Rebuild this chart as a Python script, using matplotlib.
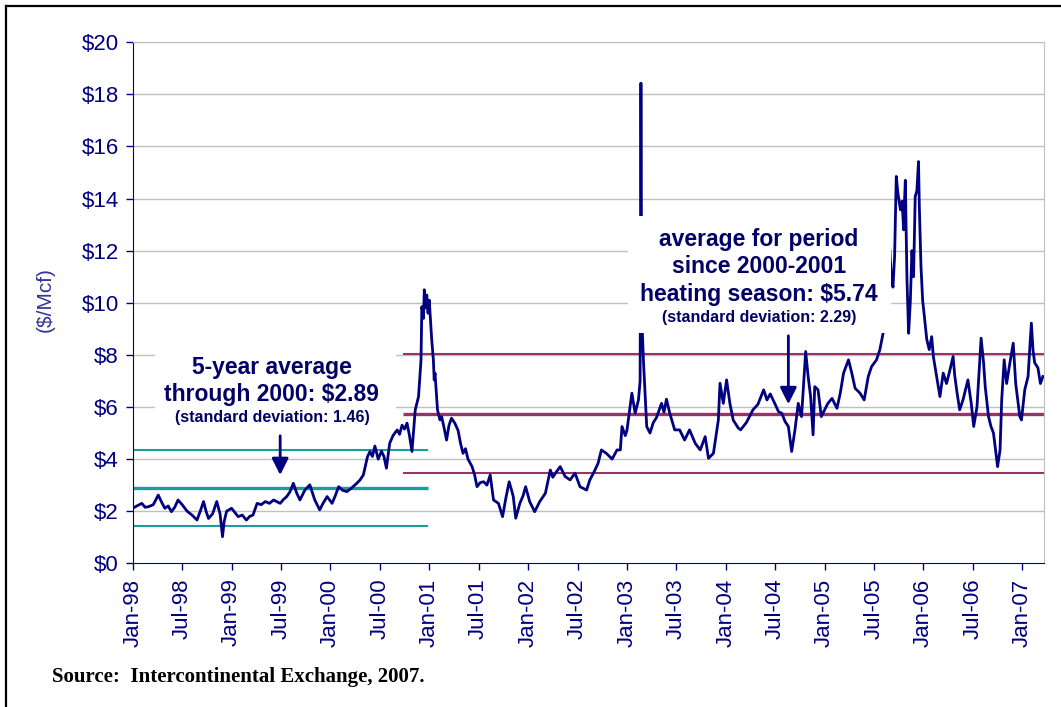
import matplotlib.pyplot as plt
from matplotlib.patches import Rectangle
from matplotlib.lines import Line2D

# Daily gas price, x = months since Jan-98
months = [0.0, 0.5, 1.1, 1.5, 1.9, 2.5, 3.1, 3.5, 3.9, 4.3, 4.7, 5.1, 5.5, 6.0, 6.6,
          7.2, 7.8, 8.2, 8.6, 8.9, 9.2, 9.7, 10.2, 10.6, 10.9, 11.1, 11.4, 12.0, 12.4,
          12.8, 13.3, 13.8, 14.2, 14.6, 15.1, 15.6, 16.1, 16.6, 17.1, 17.6, 17.9, 18.3,
          18.7, 19.1, 19.5, 19.9, 20.3, 20.9, 21.5, 22.1, 22.7, 23.1, 23.6, 24.2, 24.6,
          25.0, 25.5, 26.0, 26.6, 27.2, 27.6, 28.0, 28.5, 28.8, 29.1, 29.4, 29.8, 30.2,
          30.5, 30.8, 31.2, 31.6, 32.1, 32.4, 32.7, 33.0, 33.3, 33.6, 33.9, 34.3, 34.7,
          35.0, 35.1, 35.3, 35.4, 35.5, 35.7, 35.85, 36.0, 36.3, 36.5, 36.6, 36.7, 37.0,
          37.3, 37.5, 37.8, 38.1, 38.4, 38.7, 39.1, 39.5, 39.8, 40.1, 40.4, 40.7, 41.2,
          41.5, 41.8, 42.2, 42.6, 43.0, 43.4, 43.8, 44.4, 44.9, 45.3, 45.7, 46.0, 46.2,
          46.5, 47.0, 47.4, 47.7, 48.2, 48.8, 49.4, 50.1, 50.7, 51.0, 51.3, 51.9, 52.5,
          53.1, 53.7, 54.3, 55.1, 55.5, 56.0, 56.5, 56.9, 57.5, 58.2, 58.8, 59.2, 59.4,
          59.8, 60.0, 60.6, 61.0, 61.4, 61.6, 61.7, 61.8, 62.0, 62.4, 62.8, 63.2, 63.6,
          64.2, 64.5, 64.8, 65.2, 65.8, 66.4, 67.0, 67.6, 68.3, 68.9, 69.5, 69.9, 70.5,
          71.1, 71.3, 71.7, 72.1, 72.5, 72.9, 73.5, 73.8, 74.5, 75.3, 75.9, 76.6, 77.0,
          77.4, 78.0, 78.4, 78.8, 79.2, 79.6, 80.0, 80.4, 80.8, 81.2, 81.7, 82.0, 82.3,
          82.6, 82.8, 83.2, 83.6, 84.0, 84.4, 84.9, 85.5, 85.9, 86.3, 86.9, 87.3, 87.7,
          88.3, 88.8, 89.3, 89.7, 90.3, 90.7, 91.1, 91.4, 91.8, 92.1, 92.3, 92.5, 92.7,
          92.9, 93.2, 93.4, 93.6, 93.7, 93.8, 94.0, 94.2, 94.4, 94.6, 94.8, 95.0, 95.2,
          95.4, 95.5, 95.7, 95.9, 96.2, 96.4, 96.7, 97.0, 97.2, 97.6, 98.0, 98.4, 98.8,
          99.2, 99.6, 99.8, 100.1, 100.4, 100.8, 101.4, 101.8, 102.1, 102.5, 103.0,
          103.3, 103.5, 103.9, 104.2, 104.5, 104.7, 105.0, 105.3, 105.5, 105.8, 106.1,
          106.5, 106.9, 107.2, 107.7, 107.9, 108.3, 108.7, 109.1, 109.3, 109.5, 109.9,
          110.2, 110.5]
prices = [2.11, 2.20, 2.30, 2.15, 2.17, 2.25, 2.62, 2.35, 2.11, 2.20, 1.98, 2.15, 2.43, 2.25, 2.00,
          1.85, 1.66, 2.00, 2.37, 2.00, 1.72, 1.90, 2.37, 1.90, 1.02, 1.60, 2.00, 2.11, 1.95,
          1.79, 1.85, 1.66, 1.80, 1.85, 2.30, 2.25, 2.37, 2.30, 2.43, 2.35, 2.30, 2.45,
          2.56, 2.75, 3.07, 2.70, 2.43, 2.81, 3.01, 2.43, 2.05, 2.30, 2.56, 2.30, 2.60,
          2.94, 2.80, 2.75, 2.90, 3.07, 3.20, 3.39, 4.09, 4.29, 4.10, 4.50, 4.00, 4.30,
          4.10, 3.65, 4.61, 4.90, 5.12, 4.95, 5.30, 5.15, 5.38, 4.90, 4.29, 5.89, 6.40,
          7.81, 9.85, 9.40, 10.50, 9.80, 10.30, 9.60, 10.10, 8.58, 7.81, 7.04, 7.30, 5.89,
          5.50, 5.63, 5.20, 4.73, 5.30, 5.57, 5.38, 5.10, 4.60, 4.22, 4.40, 4.00, 3.71,
          3.40, 2.94, 3.10, 3.13, 3.00, 3.39, 2.43, 2.30, 1.79, 2.50, 3.13, 2.80, 2.56,
          1.73, 2.30, 2.60, 2.94, 2.36, 1.98, 2.36, 2.69, 3.58, 3.30, 3.45, 3.71, 3.33,
          3.20, 3.46, 2.94, 2.81, 3.20, 3.50, 3.84, 4.35, 4.22, 4.00, 4.35, 4.35, 5.25,
          4.90, 5.10, 6.53, 5.76, 6.27, 7.00, 18.43, 9.50, 7.81, 5.25, 5.00, 5.40, 5.60,
          6.14, 5.80, 6.30, 5.76, 5.12, 5.12, 4.73, 5.12, 4.60, 4.35, 4.86, 4.03, 4.22,
          5.50, 6.91, 6.14, 7.04, 6.14, 5.50, 5.20, 5.12, 5.40, 5.89, 6.10, 6.66, 6.27,
          6.50, 6.10, 5.82, 5.76, 5.44, 5.25, 4.29, 5.12, 6.14, 5.63, 8.13, 7.17, 6.40,
          4.93, 6.78, 6.66, 5.63, 5.89, 6.14, 6.33, 5.95, 6.53, 7.30, 7.81, 7.30, 6.72,
          6.53, 6.27, 7.17, 7.55, 7.81, 8.19, 8.83, 9.60, 12.70, 11.00, 10.60, 11.80, 14.85,
          14.20, 13.57, 13.90, 12.80, 13.90, 14.70, 10.88, 8.83, 10.00, 12.00, 11.00, 14.08, 14.30,
          15.42, 13.70, 11.40, 10.11, 9.22, 8.60, 8.20, 8.70, 7.94, 7.17, 6.40, 7.30, 6.90,
          7.40, 7.94, 7.20, 6.50, 5.89, 6.27, 7.04, 6.14, 5.25, 6.00, 8.64,
          7.70, 6.78, 5.63, 5.25, 5.00, 4.48, 3.71, 4.35, 6.27, 7.81, 6.90,
          7.70, 8.45, 6.90, 5.63, 5.50, 6.66, 7.17, 9.22, 8.20, 7.70, 7.50,
          6.90, 7.17]

tick_labels = ["Jan-98", "Jul-98", "Jan-99", "Jul-99", "Jan-00", "Jul-00", "Jan-01",
               "Jul-01", "Jan-02", "Jul-02", "Jan-03", "Jul-03", "Jan-04", "Jul-04",
               "Jan-05", "Jul-05", "Jan-06", "Jul-06", "Jan-07"]

# Averages and standard deviations shown on the chart
avg_pre, sd_pre = 2.89, 1.46
avg_post, sd_post = 5.74, 2.29
pre_span = (0, 35.9)
post_span = (32.85, 110.6)

navy = "#000080"
teal = "#1A9E9A"
maroon = "#993366"
text_col = "#000066"
plt.rcParams["font.family"] = ["Liberation Sans", "DejaVu Sans"]

fig = plt.figure(figsize=(10.61, 7.07), dpi=100)
ax = fig.add_axes([0.1251, 0.2033, 0.8586, 0.7369])

# grid lines every $2
for y in range(2, 21, 2):
    ax.axhline(y, color="#C0C0C0", lw=1.0, zorder=1)

# price series
ax.plot(months, prices, color=navy, lw=2.0, zorder=3)

# average +/- one standard deviation bands
ax.hlines([avg_pre + sd_pre, avg_pre - sd_pre], *pre_span, color=teal, lw=1.5, zorder=2)
ax.hlines(avg_pre, *pre_span, color=teal, lw=2.4, zorder=2)
ax.hlines([avg_post + sd_post, avg_post - sd_post], *post_span, color=maroon, lw=1.5, zorder=2)
ax.hlines(avg_post, *post_span, color=maroon, lw=2.4, zorder=2)

# white boxes behind the annotations (they cover the grid and the line)
ax.add_patch(Rectangle((2.7, 5.1), 29.3, 3.3, facecolor="white", edgecolor="none", zorder=4))
ax.add_patch(Rectangle((60.1, 8.84), 32.0, 4.5, facecolor="white", edgecolor="none", zorder=4))

ax.text(16.9, 7.5, "5-year average", ha="center", va="center", fontsize=16.5,
        fontweight="bold", color=text_col, zorder=5)
ax.text(16.9, 6.47, "through 2000: $2.89", ha="center", va="center", fontsize=16.5,
        fontweight="bold", color=text_col, zorder=5)
ax.text(16.9, 5.58, "(standard deviation: 1.46)", ha="center", va="center", fontsize=11.5,
        fontweight="bold", color=text_col, zorder=5)

ax.text(76.0, 12.41, "average for period", ha="center", va="center", fontsize=16.5,
        fontweight="bold", color=text_col, zorder=5)
ax.text(76.0, 11.38, "since 2000-2001", ha="center", va="center", fontsize=16.5,
        fontweight="bold", color=text_col, zorder=5)
ax.text(76.0, 10.30, "heating season: $5.74", ha="center", va="center", fontsize=16.5,
        fontweight="bold", color=text_col, zorder=5)
ax.text(76.0, 9.42, "(standard deviation: 2.29)", ha="center", va="center", fontsize=11.5,
        fontweight="bold", color=text_col, zorder=5)

# arrows pointing at the averages
arrow = dict(arrowstyle="-|>,head_length=1.0,head_width=0.5", color=navy, lw=2)
ax.annotate("", xy=(17.9, 3.28), xytext=(17.9, 5.0), arrowprops=arrow, zorder=6)
ax.annotate("", xy=(79.6, 6.0), xytext=(79.6, 8.84), arrowprops=arrow, zorder=6)

ax.set_xlim(0, 110.6)
ax.set_ylim(0, 20)
ax.set_xticks(range(0, 109, 6))
ax.set_xticklabels(tick_labels, rotation=90)
ax.set_yticks(range(0, 21, 2))
ax.set_yticklabels(["$%d" % v for v in range(0, 21, 2)])
ax.tick_params(axis="both", colors=navy, labelsize=16, direction="out", length=5, width=1)
ax.tick_params(axis="x", pad=6)
ax.tick_params(axis="y", pad=5)

ax.spines["left"].set_color(navy)
ax.spines["bottom"].set_color(navy)
ax.spines["top"].set_color("#C0C0C0")
ax.spines["right"].set_color("#C0C0C0")

fig.text(45 / 1061, 1 - 300 / 707, "($/Mcf)", rotation=90, ha="center", va="center",
         fontsize=15, color="#333399")
fig.text(52 / 1061, 1 - 677 / 707, "Source:  Intercontinental Exchange, 2007.",
         family="Liberation Serif", fontweight="bold", fontsize=15, ha="left", va="center")

# frame around the picture
fig.add_artist(Line2D([6 / 1061, 6 / 1061], [0, 1 - 6 / 707], color="black", lw=1.6))
fig.add_artist(Line2D([6 / 1061, 1], [1 - 6 / 707, 1 - 6 / 707], color="black", lw=1.6))

plt.savefig("out.png", dpi=100)
